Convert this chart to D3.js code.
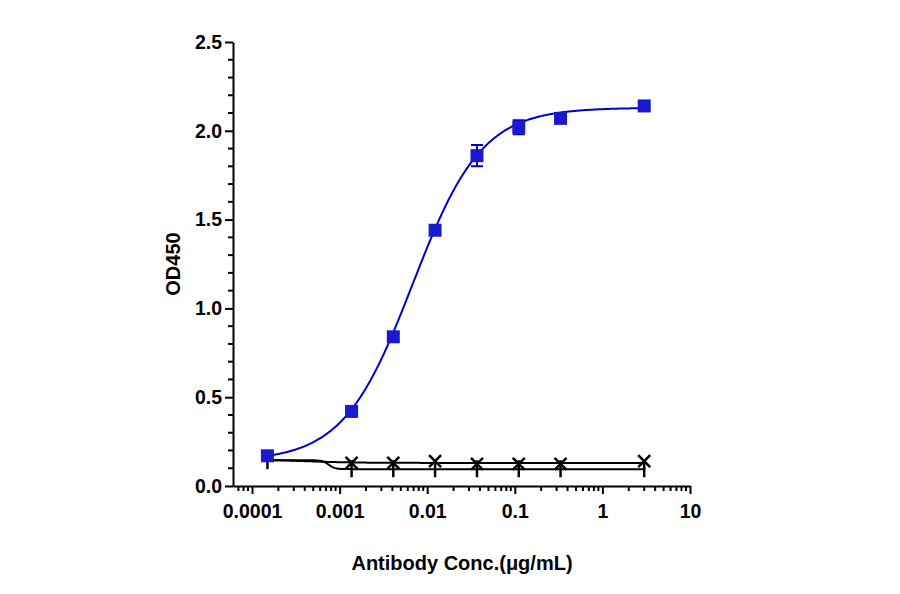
<!DOCTYPE html>
<html><head><meta charset="utf-8">
<script src="https://cdn.jsdelivr.net/npm/d3@7"></script>
<style>body{margin:0;background:#fff}text{font-family:"Liberation Sans",Arial,sans-serif;font-weight:bold}</style>
</head><body>
<script>
// data
var concBlue = [0.00015, 0.00137, 0.0041, 0.0123, 0.037, 0.111, 0.333, 3];
var odBlue = [0.17, 0.42, 0.84, 1.44, 1.86, 2.02, 2.07, 2.14];
var errBlue = [0.02, 0.01, 0.02, 0.02, 0.06, 0.04, 0.02, 0.01];
var concCtrl = [0.00137, 0.0041, 0.0123, 0.037, 0.111, 0.333, 3];
var odCross = [0.13, 0.13, 0.14, 0.125, 0.125, 0.125, 0.14];
var odPlus = [0.10, 0.10, 0.10, 0.10, 0.10, 0.10, 0.10];
var xTicks = [0.0001, 0.001, 0.01, 0.1, 1, 10];
var yTicks = [0, 0.5, 1.0, 1.5, 2.0, 2.5];

var svg = d3.select('body').append('svg').attr('width', 900).attr('height', 594);
var x = d3.scaleLog().domain([Math.pow(10, -4.217), 10]).range([233, 690]);
var y = d3.scaleLinear().domain([0, 2.5]).range([486, 42]);

// fit curves
function fpl(c, b, t, ec, h){ return b + (t - b) / (1 + Math.pow(ec / c, h)); }
var xs = d3.range(-3.85, 0.5, 0.01).map(function(l){ return Math.pow(10, l); });
var line = d3.line().x(function(d){ return x(d[0]); }).y(function(d){ return y(d[1]); });
svg.append('path').attr('d', line(xs.map(function(c){ return [c, fpl(c, 0.13, 0.15, 0.0004, -1.5)]; })))
  .attr('fill', 'none').attr('stroke', '#000').attr('stroke-width', 2);
svg.append('path').attr('d', line(xs.map(function(c){ return [c, fpl(c, 0.095, 0.145, 0.00075, -12)]; })))
  .attr('fill', 'none').attr('stroke', '#000').attr('stroke-width', 2);
svg.append('path').attr('d', line(xs.map(function(c){ return [c, fpl(c, 0.14, 2.13, 0.0068, 1.1)]; })))
  .attr('fill', 'none').attr('stroke', '#0000cc').attr('stroke-width', 2);

// control markers
concCtrl.forEach(function(c, i){
  var px = x(c), py = y(odCross[i]);
  svg.append('path').attr('d', 'M' + (px-6) + ',' + (py-6) + 'L' + (px+6) + ',' + (py+6) + 'M' + (px+6) + ',' + (py-6) + 'L' + (px-6) + ',' + (py+6))
    .attr('stroke', '#000').attr('stroke-width', 2.5);
  var qy = y(odPlus[i]);
  svg.append('path').attr('d', 'M' + px + ',' + (qy-8) + 'L' + px + ',' + (qy+9)).attr('stroke', '#000').attr('stroke-width', 2.5);
});
svg.append('path').attr('d', 'M' + x(0.00015) + ',' + (y(0.14)-3) + 'L' + x(0.00015) + ',' + (y(0.14)+8)).attr('stroke', '#000').attr('stroke-width', 2.5);

// blue points
concBlue.forEach(function(c, i){
  var px = x(c);
  svg.append('path').attr('d', 'M' + px + ',' + y(odBlue[i] + errBlue[i]) + 'V' + y(odBlue[i] - errBlue[i]) +
    'M' + (px-6) + ',' + y(odBlue[i] + errBlue[i]) + 'h12M' + (px-6) + ',' + y(odBlue[i] - errBlue[i]) + 'h12')
    .attr('stroke', '#0000cc').attr('stroke-width', 2);
  svg.append('rect').attr('x', px - 6.5).attr('y', y(odBlue[i]) - 6.5).attr('width', 13).attr('height', 13).attr('fill', '#1a1acc');
});

// axes
var xAxis = svg.append('g').attr('transform', 'translate(0,486)')
  .call(d3.axisBottom(x).tickValues(xTicks).tickFormat(function(d){ return d >= 1 ? d3.format('d')(d) : d3.format('')(d); }).tickSize(8).tickSizeOuter(0));
var minor = [];
for (var e = -5; e < 1; e++) for (var k = 2; k < 10; k++) { var v = k * Math.pow(10, e); if (v >= x.domain()[0] && v <= 10) minor.push(v); }
xAxis.selectAll('.minor').data(minor).enter().append('line').attr('x1', function(d){ return x(d); }).attr('x2', function(d){ return x(d); })
  .attr('y1', 0).attr('y2', 5).attr('stroke', '#000').attr('stroke-width', 2);
var yAxis = svg.append('g').attr('transform', 'translate(233,0)')
  .call(d3.axisLeft(y).tickValues(yTicks).tickFormat(d3.format('.1f')).tickSize(8).tickSizeOuter(0));
yAxis.selectAll('.minor').data(d3.range(0.1, 2.5, 0.1).filter(function(d){ return Math.round(d*10) % 5 != 0; })).enter().append('line')
  .attr('x1', -5).attr('x2', 0).attr('y1', function(d){ return y(d); }).attr('y2', function(d){ return y(d); }).attr('stroke', '#000').attr('stroke-width', 2);
[xAxis, yAxis].forEach(function(a){
  a.selectAll('path, line').attr('stroke', '#000').attr('stroke-width', 2);
  a.selectAll('text').attr('font-size', 19.5).attr('fill', '#000');
});
xAxis.selectAll('.tick text').attr('dy', '1.1em');

svg.append('text').attr('x', 462).attr('y', 570).attr('text-anchor', 'middle').attr('font-size', 20).text('Antibody Conc.(μg/mL)');
svg.append('text').attr('transform', 'translate(180,264) rotate(-90)').attr('text-anchor', 'middle').attr('font-size', 20).text('OD450');
</script>
</body></html>
